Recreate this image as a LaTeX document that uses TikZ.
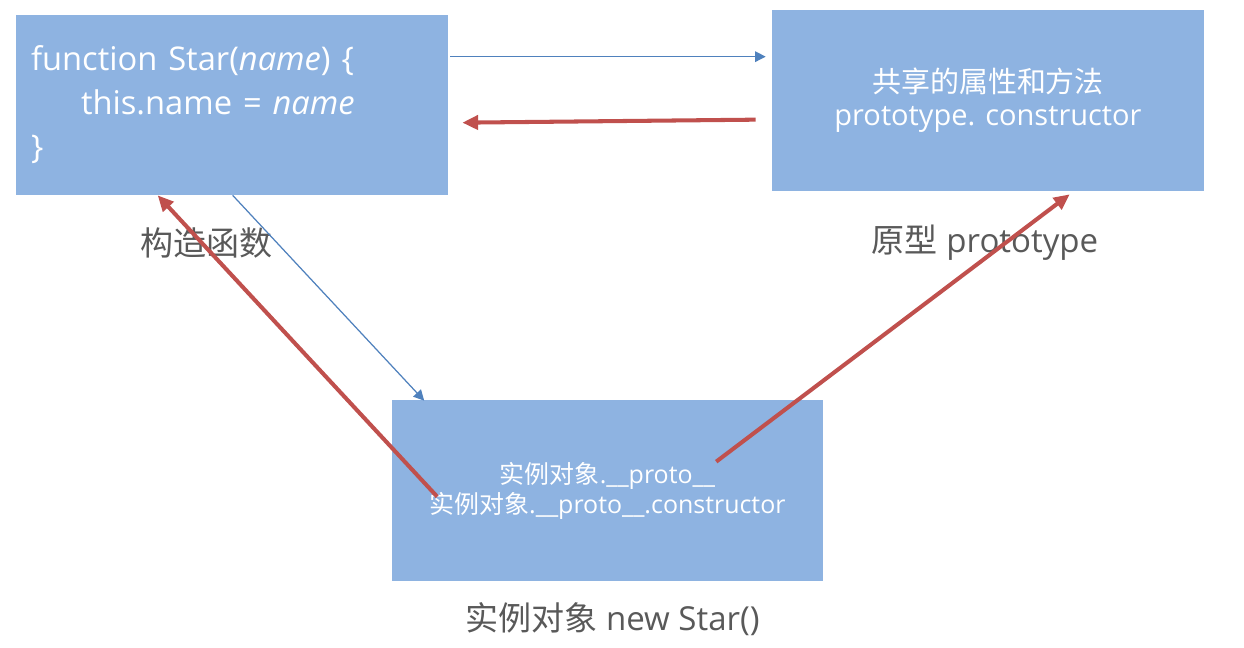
\documentclass[tikz,border=0pt]{standalone}
\usepackage{fontspec}
\setmainfont{Open Sans}
\newfontfamily\cjk{Noto Sans CJK SC}
\usetikzlibrary{calc,positioning,arrows.meta}
\definecolor{CBOX}{RGB}{142,179,225}
\definecolor{CRED}{RGB}{192,80,77}
\definecolor{CBLU}{RGB}{79,129,189}
\definecolor{CTXT}{RGB}{89,89,89}

\begin{document}
\begin{tikzpicture}[x=0.02cm,y=-0.02cm,
  box/.style={fill=CBOX,draw=none,minimum width=8.64cm,minimum height=3.62cm,text=white,inner sep=0pt},
  lbl/.style={text=CTXT,font=\fontsize{18.8}{22}\selectfont},
  link/.style={CBLU,line width=0.7pt,-{Triangle[length=6pt,width=6pt]}},
  back/.style={CRED,line width=2.3pt,-{Triangle[length=9pt,width=8pt]}}]
  \useasboundingbox[fill=white] (0,0) rectangle (1244,648);
  % the three boxes
  \node[box,text width=8.04cm,align=left,font=\fontsize{18.6}{25}\selectfont] (ctor) at (232,105)
    {function Star(\textit{name}) \{\\\hspace*{1cm}this.name = \textit{name}\\\}};
  \node[box,align=center,font=\fontsize{16.5}{19}\selectfont] (proto) at (988,100.5)
    {{\cjk 共享的属性和方法}\\prototype. constructor};
  \node[box,align=center,font=\fontsize{14.2}{17}\selectfont] (inst) at (607.5,490.5)
    {{\cjk 实例对象}.\_\_proto\_\_\\{\cjk 实例对象}.\_\_proto\_\_.constructor};
  % captions
  \node[lbl] (ctorlbl) at ($(ctor.south west)+(191,47)$) {\cjk 构造函数};
  \node[lbl] (protolbl) at ($(proto.south)+(-3,51)$) {{\cjk 原型} prototype};
  \node[lbl] (instlbl) at ($(inst.south)+(5,38)$) {{\cjk 实例对象} new Star()};
  % links
  \draw[link] ($(ctor.north east)+(2,42.5)$) -- ($(proto.north west)+(-6,47)$);
  \draw[back] ($(proto.north west)+(-16,110)$) -- ($(ctor.north east)+(14,108.5)$);
  \draw[link] ($(ctor.south west)+(217,-0.5)$) -- ($(inst.north west)+(33,1)$);
  \draw[back] ($(inst.north west)+(46,97)$) -- ($(ctor.south west)+(142,-0.5)$);
  \draw[back] ($(inst.north west)+(325,62)$) -- ($(proto.south west)+(298,3)$);
\end{tikzpicture}
\end{document}
